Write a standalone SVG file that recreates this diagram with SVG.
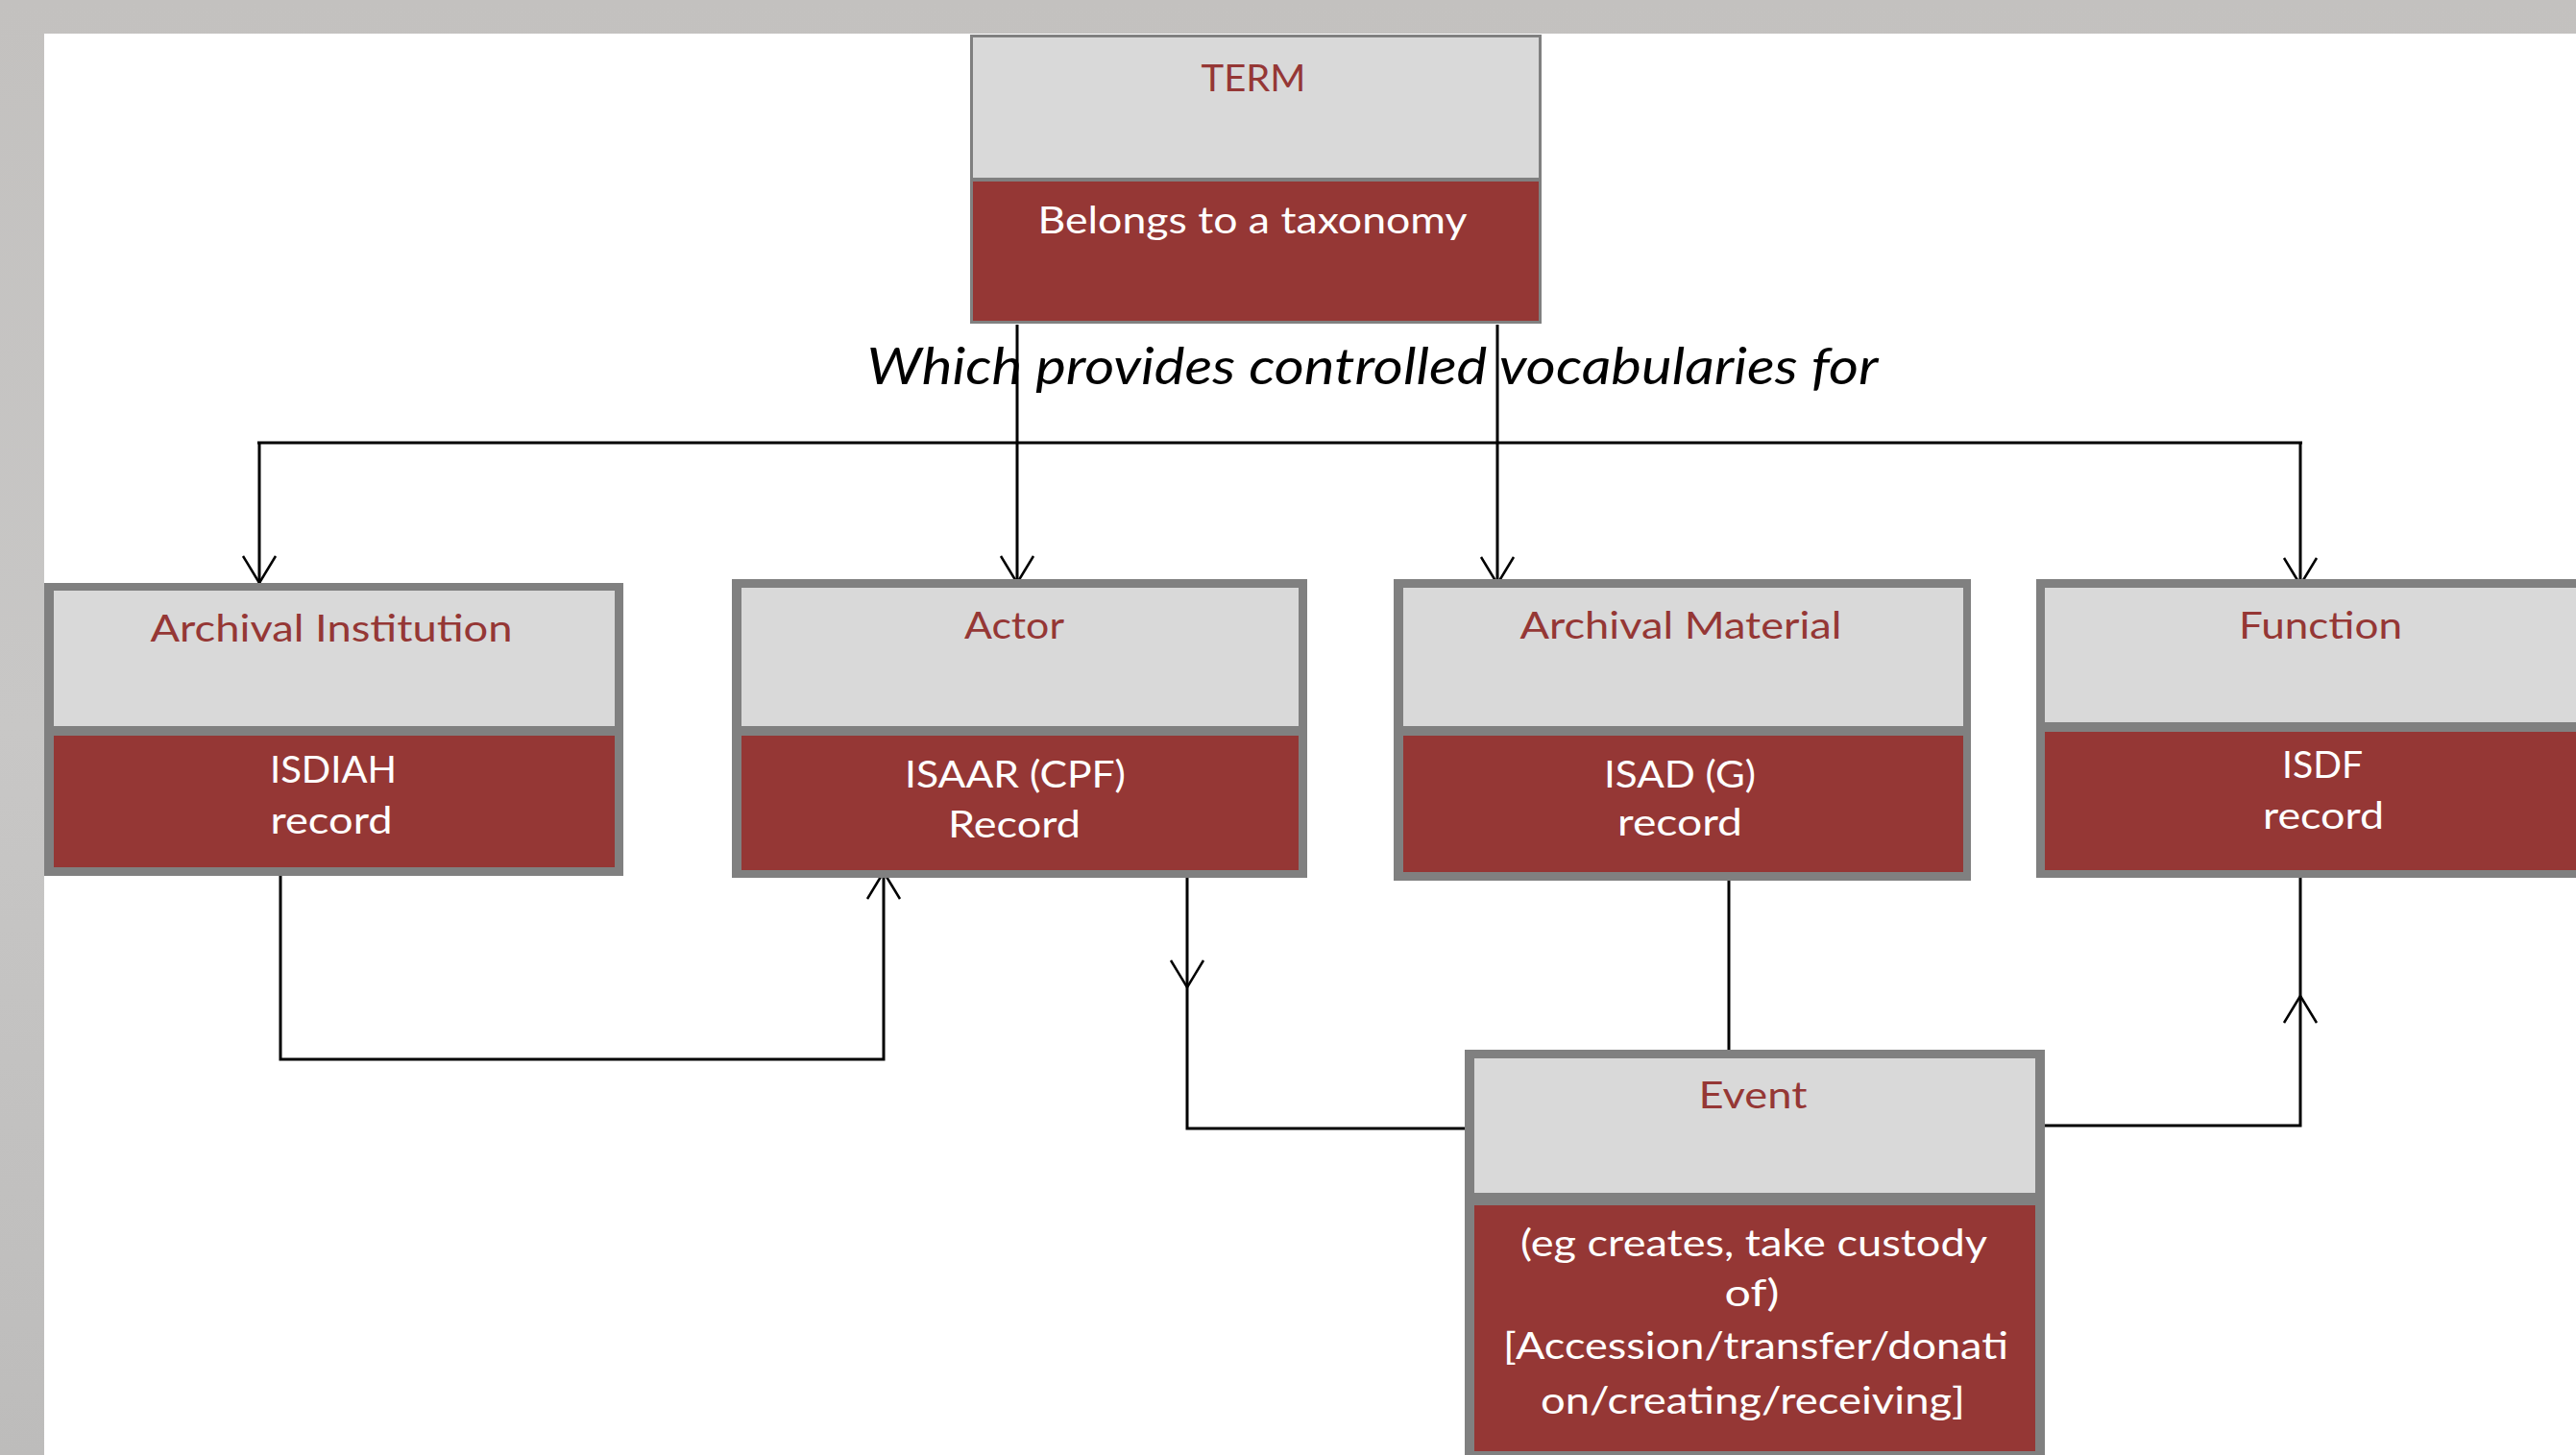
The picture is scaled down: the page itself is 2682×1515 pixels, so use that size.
<svg xmlns="http://www.w3.org/2000/svg" width="2682" height="1515" viewBox="0 0 2682 1515">
<style>
.hd{fill:#d9d9d9}
.bd{fill:#953735}
.bx{fill:#808080}
.t{font-family:Lato,"Open Sans","Liberation Sans",sans-serif;font-size:38px;text-anchor:middle}
.th{fill:#953735}
.tb{fill:#ffffff}
.ln{fill:none;stroke:#000000;stroke-width:3}
.cap{font-family:Lato,"Open Sans","Liberation Sans",sans-serif;font-style:italic;font-size:53px;fill:#000000;text-anchor:middle}
</style>
<defs>
<linearGradient id="bg" x1="0" y1="0" x2="0" y2="1">
<stop offset="0" stop-color="#c3c1bf"/>
<stop offset="0.5" stop-color="#c8c7c6"/>
<stop offset="1" stop-color="#bdbcbb"/>
</linearGradient>
<marker id="ah" markerUnits="userSpaceOnUse" viewBox="-30 -20 34 40" markerWidth="34" markerHeight="40" refX="0" refY="0" orient="auto" overflow="visible">
<path d="M-28,-17 L0,0 L-28,17" fill="none" stroke="#000000" stroke-width="2.5"/>
</marker>
</defs>
<rect x="0" y="0" width="2682" height="1515" fill="url(#bg)"/>
<rect x="46" y="35" width="2636" height="1480" fill="#ffffff"/>

<g id="connectors">
<path class="ln" d="M268,461 H2397"/>
<path class="ln" d="M1059,338 V607" marker-end="url(#ah)"/>
<path class="ln" d="M1559,338 V608" marker-end="url(#ah)"/>
<path class="ln" d="M270,461 V607" marker-end="url(#ah)"/>
<path class="ln" d="M2395,461 V609" marker-end="url(#ah)"/>
<path class="ln" d="M292,912 V1103 H920 V908" marker-end="url(#ah)"/>
<path class="ln" d="M1236,914 V1028" marker-end="url(#ah)"/>
<path class="ln" d="M1236,1028 V1175 H1527"/>
<path class="ln" d="M1800,916 V1094"/>
<path class="ln" d="M2127,1172 H2395 V1037" marker-end="url(#ah)"/>
<path class="ln" d="M2395,1037 V913"/>
</g>

<g id="term">
<rect class="bx" x="1010" y="36" width="595" height="301"/>
<rect class="hd" x="1013" y="39" width="589" height="146"/>
<rect class="bd" x="1013" y="189" width="589" height="145"/>
<text class="t th" x="1305" y="95" textLength="109" lengthAdjust="spacingAndGlyphs">TERM</text>
<text class="t tb" x="1304" y="243" textLength="447" lengthAdjust="spacingAndGlyphs">Belongs to a taxonomy</text>
</g>

<text class="cap" x="1429" y="400" textLength="1053" lengthAdjust="spacingAndGlyphs">Which provides controlled vocabularies for</text>

<g id="archival-institution">
<rect class="bx" x="46" y="607" width="603" height="305"/>
<rect class="hd" x="56" y="615" width="584" height="141"/>
<rect class="bd" x="56" y="766" width="584" height="137"/>
<text class="t th" x="345" y="668" textLength="377" lengthAdjust="spacingAndGlyphs">Archival Institution</text>
<text class="t tb" x="347" y="815" textLength="132" lengthAdjust="spacingAndGlyphs">ISDIAH</text>
<text class="t tb" x="345" y="868" textLength="127" lengthAdjust="spacingAndGlyphs">record</text>
</g>

<g id="actor">
<rect class="bx" x="762" y="603" width="599" height="311"/>
<rect class="hd" x="772" y="612" width="580" height="144"/>
<rect class="bd" x="772" y="766" width="580" height="140"/>
<text class="t th" x="1056" y="665" textLength="104" lengthAdjust="spacingAndGlyphs">Actor</text>
<text class="t tb" x="1057" y="820" textLength="230" lengthAdjust="spacingAndGlyphs">ISAAR (CPF)</text>
<text class="t tb" x="1056" y="872" textLength="138" lengthAdjust="spacingAndGlyphs">Record</text>
</g>

<g id="archival-material">
<rect class="bx" x="1451" y="603" width="601" height="314"/>
<rect class="hd" x="1461" y="612" width="583" height="144"/>
<rect class="bd" x="1461" y="766" width="583" height="142"/>
<text class="t th" x="1750" y="665" textLength="335" lengthAdjust="spacingAndGlyphs">Archival Material</text>
<text class="t tb" x="1749" y="820" textLength="158" lengthAdjust="spacingAndGlyphs">ISAD (G)</text>
<text class="t tb" x="1749" y="870" textLength="130" lengthAdjust="spacingAndGlyphs">record</text>
</g>

<g id="function">
<rect class="bx" x="2120" y="603" width="600" height="311"/>
<rect class="hd" x="2129" y="612" width="600" height="140"/>
<rect class="bd" x="2129" y="762" width="600" height="144"/>
<text class="t th" x="2416" y="665" textLength="170" lengthAdjust="spacingAndGlyphs">Function</text>
<text class="t tb" x="2418" y="810" textLength="84" lengthAdjust="spacingAndGlyphs">ISDF</text>
<text class="t tb" x="2419" y="863" textLength="126" lengthAdjust="spacingAndGlyphs">record</text>
</g>

<g id="event">
<rect class="bx" x="1525" y="1093" width="604" height="430"/>
<rect class="hd" x="1535" y="1102" width="584" height="140"/>
<rect class="bd" x="1535" y="1255" width="584" height="256"/>
<text class="t th" x="1825" y="1154" textLength="113" lengthAdjust="spacingAndGlyphs">Event</text>
<text class="t tb" x="1826" y="1308" textLength="486" lengthAdjust="spacingAndGlyphs">(eg creates, take custody</text>
<text class="t tb" x="1824" y="1360" textLength="57" lengthAdjust="spacingAndGlyphs">of)</text>
<text class="t tb" x="1828" y="1415" textLength="526" lengthAdjust="spacingAndGlyphs">[Accession/transfer/donati</text>
<text class="t tb" x="1825" y="1472" textLength="442" lengthAdjust="spacingAndGlyphs">on/creating/receiving]</text>
</g>
</svg>
